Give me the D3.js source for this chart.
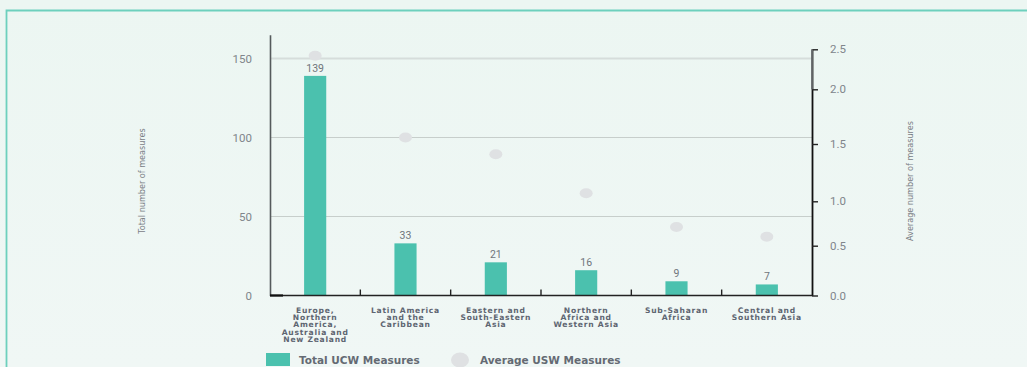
<!DOCTYPE html>
<html>
<head>
<meta charset="utf-8">
<script src="https://cdn.jsdelivr.net/npm/d3@7"></script>
<style>
  html, body { margin: 0; padding: 0; background: #edf6f3; }
  svg { display: block; }
</style>
</head>
<body>
<div id="chart"></div>
<script>
// データ
const categories = [
    "Europe, Northern America, Australia and New Zealand",
    "Latin America and the Caribbean",
    "Eastern and South-Eastern Asia",
    "Northern Africa and Western Asia",
    "Sub-Saharan Africa",
    "Central and Southern Asia"
];
const categoryLines = [
    ["Europe,", "Northern", "America,", "Australia and", "New Zealand"],
    ["Latin America", "and the", "Caribbean"],
    ["Eastern and", "South-Eastern", "Asia"],
    ["Northern", "Africa and", "Western Asia"],
    ["Sub-Saharan", "Africa"],
    ["Central and", "Southern Asia"]
];
const totalUCW = [139, 33, 21, 16, 9, 7];
const averageUSW = [2.42, 1.56, 1.41, 1.07, 0.71, 0.60];
const leftTicks = [0, 50, 100, 150];
const rightTicks = [0, 0.5, 1.0, 1.5, 2.0, 2.5];

const W = 1027, H = 367;
const barColor = "#4bc1ae";
const dotColor = "#dfe1e3";
const labelColor = "#5e6571";
const tickColor = "#80858b";

const svg = d3.select("#chart").append("svg")
    .attr("width", W)
    .attr("height", H);

// 背景と枠
const bg = svg.append("defs").append("linearGradient")
    .attr("id", "bg").attr("x1", 0).attr("y1", 0).attr("x2", 0).attr("y2", 1);
bg.append("stop").attr("offset", "0").attr("stop-color", "#ecf6f2");
bg.append("stop").attr("offset", "1").attr("stop-color", "#f0f7f5");
svg.append("rect")
   .attr("x", 0).attr("y", 0).attr("width", W).attr("height", H)
   .attr("fill", "url(#bg)");
svg.append("path")
   .attr("d", `M6.5,${H} V10.5 H${W}`)
   .attr("fill", "none")
   .attr("stroke", "#6dd0bd")
   .attr("stroke-width", 1.8);

// スケール
const x = d3.scaleBand().domain(categories).range([270, 812]);
const yL = d3.scaleLinear().domain([0, 165]).range([295.5, 34.8]);
// 右軸は元の図のとおり目盛り間隔が不均一
const yR = d3.scaleLinear()
    .domain(rightTicks)
    .range([295.5, 245.7, 201.3, 144, 89.3, 49.3]);

// グリッド線
svg.append("g").selectAll("line")
   .data(leftTicks.filter(d => d > 0))
   .enter().append("line")
   .attr("x1", 270).attr("x2", 812)
   .attr("y1", d => yL(d)).attr("y2", d => yL(d))
   .attr("stroke", d => d === 150 ? "#d6dddb" : "#c7cecb")
   .attr("stroke-width", d => d === 150 ? 2 : 1);

// 棒
const barW = x.bandwidth() * 0.245;
svg.append("g").selectAll("rect")
   .data(categories)
   .enter().append("rect")
   .attr("x", d => x(d) + x.bandwidth() / 2 - barW / 2)
   .attr("y", (d, i) => yL(totalUCW[i]))
   .attr("width", barW)
   .attr("height", (d, i) => yL(0) - yL(totalUCW[i]))
   .attr("fill", barColor);

// 棒の値ラベル
svg.append("g").selectAll("text")
   .data(categories)
   .enter().append("text")
   .attr("x", d => x(d) + x.bandwidth() / 2)
   .attr("y", (d, i) => yL(totalUCW[i]) - 4)
   .attr("text-anchor", "middle")
   .attr("font-family", "Roboto, sans-serif")
   .attr("font-size", "10.5px")
   .attr("fill", "#6f757c")
   .text((d, i) => totalUCW[i]);

// 平均の点
svg.append("g").selectAll("ellipse")
   .data(categories)
   .enter().append("ellipse")
   .attr("cx", d => x(d) + x.bandwidth() / 2)
   .attr("cy", (d, i) => yR(averageUSW[i]))
   .attr("rx", 6.5)
   .attr("ry", 5)
   .attr("fill", dotColor);

// 左軸
const leftAxis = svg.append("g")
   .attr("transform", "translate(270,0)")
   .call(d3.axisLeft(yL).tickValues(leftTicks).tickSize(0).tickPadding(18));
leftAxis.select(".domain").attr("stroke", "#555a5c").attr("stroke-width", 1.6);
leftAxis.selectAll("text")
   .attr("font-family", "Roboto, sans-serif")
   .attr("font-size", "11.5px")
   .attr("fill", tickColor);

// 右軸
const rightAxis = svg.append("g")
   .attr("transform", "translate(812,0)")
   .call(d3.axisRight(yR).tickValues(rightTicks).tickFormat(d3.format(".1f"))
           .tickSize(6).tickPadding(12).tickSizeOuter(0));
rightAxis.select(".domain").attr("stroke", "#111").attr("stroke-width", 1.8);
rightAxis.append("line")
   .attr("x1", 0).attr("x2", 0)
   .attr("y1", yR(2.5)).attr("y2", yR(2.0))
   .attr("stroke", "#6a6e70").attr("stroke-width", 1.8);
rightAxis.selectAll(".tick line").attr("stroke", "#222").attr("stroke-width", 1.4);
rightAxis.selectAll("text")
   .attr("font-family", "Roboto, sans-serif")
   .attr("font-size", "11.5px")
   .attr("fill", tickColor);

// 下軸
const bottom = svg.append("g");
bottom.append("line")
   .attr("x1", 270).attr("x2", 812)
   .attr("y1", yL(0)).attr("y2", yL(0))
   .attr("stroke", "#222").attr("stroke-width", 1.6);
bottom.append("line")
   .attr("x1", 270).attr("x2", 283)
   .attr("y1", yL(0)).attr("y2", yL(0))
   .attr("stroke", "#111").attr("stroke-width", 2.2);
bottom.selectAll("line.tick")
   .data(categories.slice(1))
   .enter().append("line")
   .attr("class", "tick")
   .attr("x1", d => x(d)).attr("x2", d => x(d))
   .attr("y1", yL(0)).attr("y2", yL(0) - 6)
   .attr("stroke", "#222").attr("stroke-width", 1.4);

// カテゴリラベル
const catLabels = svg.append("g").selectAll("text")
   .data(categories)
   .enter().append("text")
   .attr("text-anchor", "middle")
   .attr("font-family", "'DejaVu Sans', sans-serif")
   .attr("font-weight", "bold")
   .attr("font-size", "7.6px")
   .attr("letter-spacing", "0.75px")
   .attr("fill", labelColor);
catLabels.each(function(d, i) {
    const t = d3.select(this);
    categoryLines[i].forEach((line, j) => {
        t.append("tspan")
         .attr("x", x(d) + x.bandwidth() / 2)
         .attr("y", 312.5 + j * 7.4)
         .text(line);
    });
});

// 軸タイトル
svg.append("text")
   .attr("transform", "translate(145,181) rotate(-90)")
   .attr("text-anchor", "middle")
   .attr("font-family", "'Liberation Sans Narrow', 'DejaVu Sans Condensed', sans-serif")
   .attr("font-size", "9px")
   .attr("fill", "#7b8086")
   .text("Total number of measures");
svg.append("text")
   .attr("transform", "translate(913,181) rotate(-90)")
   .attr("text-anchor", "middle")
   .attr("font-family", "'Liberation Sans Narrow', 'DejaVu Sans Condensed', sans-serif")
   .attr("font-size", "9px")
   .attr("fill", "#7b8086")
   .text("Average number of measures");

// 凡例
const legend = svg.append("g");
legend.append("rect")
   .attr("x", 266).attr("y", 353).attr("width", 24).attr("height", 13)
   .attr("fill", barColor);
legend.append("text")
   .attr("x", 299).attr("y", 363.5)
   .attr("font-family", "'DejaVu Sans', sans-serif")
   .attr("font-weight", "bold")
   .attr("font-size", "10.5px")
   .attr("fill", "#646a73")
   .text("Total UCW Measures");
legend.append("ellipse")
   .attr("cx", 460).attr("cy", 360).attr("rx", 9).attr("ry", 7.5)
   .attr("fill", dotColor);
legend.append("text")
   .attr("x", 480).attr("y", 363.5)
   .attr("font-family", "'DejaVu Sans', sans-serif")
   .attr("font-weight", "bold")
   .attr("font-size", "10.5px")
   .attr("fill", "#646a73")
   .text("Average USW Measures");
</script>
</body>
</html>
